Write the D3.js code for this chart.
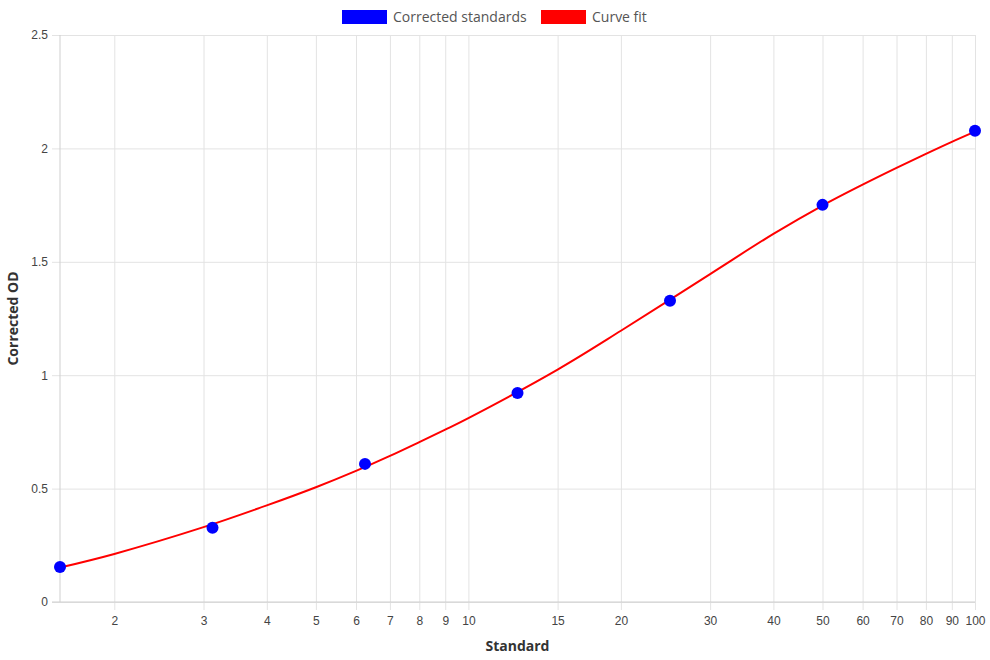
<!DOCTYPE html>
<html lang="en">
<head>
  <meta charset="UTF-8">
  <title>Standard curve</title>
  <script src="https://d3js.org/d3.v7.min.js"></script>
  <style>
    body { margin: 0; background: #fff; }
    svg { display: block; }
    .tick text { font-family: "Liberation Sans", Arial, sans-serif; font-size: 12px; fill: #444; }
    .legend text { font-family: "Open Sans", sans-serif; font-size: 14px; fill: #555; }
    .axis-title { font-family: "Open Sans", sans-serif; font-size: 14px; font-weight: bold; fill: #333; }
  </style>
</head>
<body>
  <svg width="990" height="660"></svg>
  <script>
    // measured standards
    const standards = [1.5625, 3.125, 6.25, 12.5, 25, 50, 100];
    const correctedOD = [0.154, 0.327, 0.609, 0.922, 1.328, 1.751, 2.078];

    // curve fit
    const fitX = [1.5625, 2, 3, 4, 5, 6, 7, 8, 9, 10, 15, 20, 30, 40, 50, 60, 70, 80, 90, 100];
    const fitY = [0.152, 0.212, 0.330, 0.426, 0.506, 0.578, 0.644, 0.705, 0.760, 0.811,
                  1.025, 1.196, 1.446, 1.623, 1.748, 1.840, 1.914, 1.976, 2.029, 2.074];

    const xTicks = [2, 3, 4, 5, 6, 7, 8, 9, 10, 15, 20, 30, 40, 50, 60, 70, 80, 90, 100];
    const yTicks = [0, 0.5, 1, 1.5, 2, 2.5];

    const legendItems = [
      { label: "Corrected standards", color: "#0000ff" },
      { label: "Curve fit", color: "#ff0000" }
    ];

    const margin = { top: 35, right: 15, bottom: 58, left: 60 };
    const width = 990 - margin.left - margin.right;
    const height = 660 - margin.top - margin.bottom;

    const root = d3.select("svg");
    const svg = root.append("g")
      .attr("transform", `translate(${margin.left},${margin.top})`);

    const x = d3.scaleLog().domain([1.5625, 100]).range([0, width]);
    const y = d3.scaleLinear().domain([0, 2.5]).range([height, 0]);

    const gridColor = "#e3e3e3";
    const borderColor = "#cfcfcf";

    // x axis + vertical grid
    const gX = svg.append("g")
      .attr("transform", `translate(0,${height})`)
      .call(d3.axisBottom(x).tickValues(xTicks).tickFormat(d3.format("d")).tickSize(8).tickPadding(6));
    gX.select(".domain").remove();
    gX.selectAll(".tick line").attr("y1", -height).attr("stroke", gridColor);

    // y axis + horizontal grid
    const gY = svg.append("g")
      .call(d3.axisLeft(y).tickValues(yTicks).tickFormat(d => d).tickSize(8).tickPadding(4));
    gY.select(".domain").remove();
    gY.selectAll(".tick line").attr("x1", width).attr("stroke", gridColor);

    // borders
    svg.append("line")
      .attr("x1", 0).attr("x2", 0).attr("y1", 0).attr("y2", height)
      .attr("stroke", borderColor);
    svg.append("line")
      .attr("x1", -8).attr("x2", width).attr("y1", height).attr("y2", height)
      .attr("stroke", borderColor);

    // curve fit
    const fitData = fitX.map((v, i) => ({ x: v, y: fitY[i] }));
    svg.append("path")
      .datum(fitData)
      .attr("fill", "none")
      .attr("stroke", "#ff0000")
      .attr("stroke-width", 2)
      .attr("d", d3.line().x(d => x(d.x)).y(d => y(d.y)).curve(d3.curveCatmullRom.alpha(0.5)));

    // standards
    svg.selectAll(".pt")
      .data(standards.map((v, i) => ({ x: v, y: correctedOD[i] })))
      .enter().append("circle")
      .attr("class", "pt")
      .attr("cx", d => x(d.x))
      .attr("cy", d => y(d.y))
      .attr("r", 6)
      .attr("fill", "#0000ff");

    // axis titles
    root.append("text")
      .attr("class", "axis-title")
      .attr("x", margin.left + width / 2)
      .attr("y", 651)
      .attr("text-anchor", "middle")
      .text("Standard");

    root.append("text")
      .attr("class", "axis-title")
      .attr("transform", `translate(18,${margin.top + height / 2}) rotate(-90)`)
      .attr("text-anchor", "middle")
      .text("Corrected OD");

    // legend
    const legend = root.append("g").attr("class", "legend");
    const legendX = [342, 541];
    legendItems.forEach((item, i) => {
      const g = legend.append("g").attr("transform", `translate(${legendX[i]},10)`);
      g.append("rect").attr("width", 45).attr("height", 14).attr("fill", item.color);
      g.append("text").attr("x", 51).attr("y", 7).attr("dy", "0.35em").text(item.label);
    });
  </script>
</body>
</html>
